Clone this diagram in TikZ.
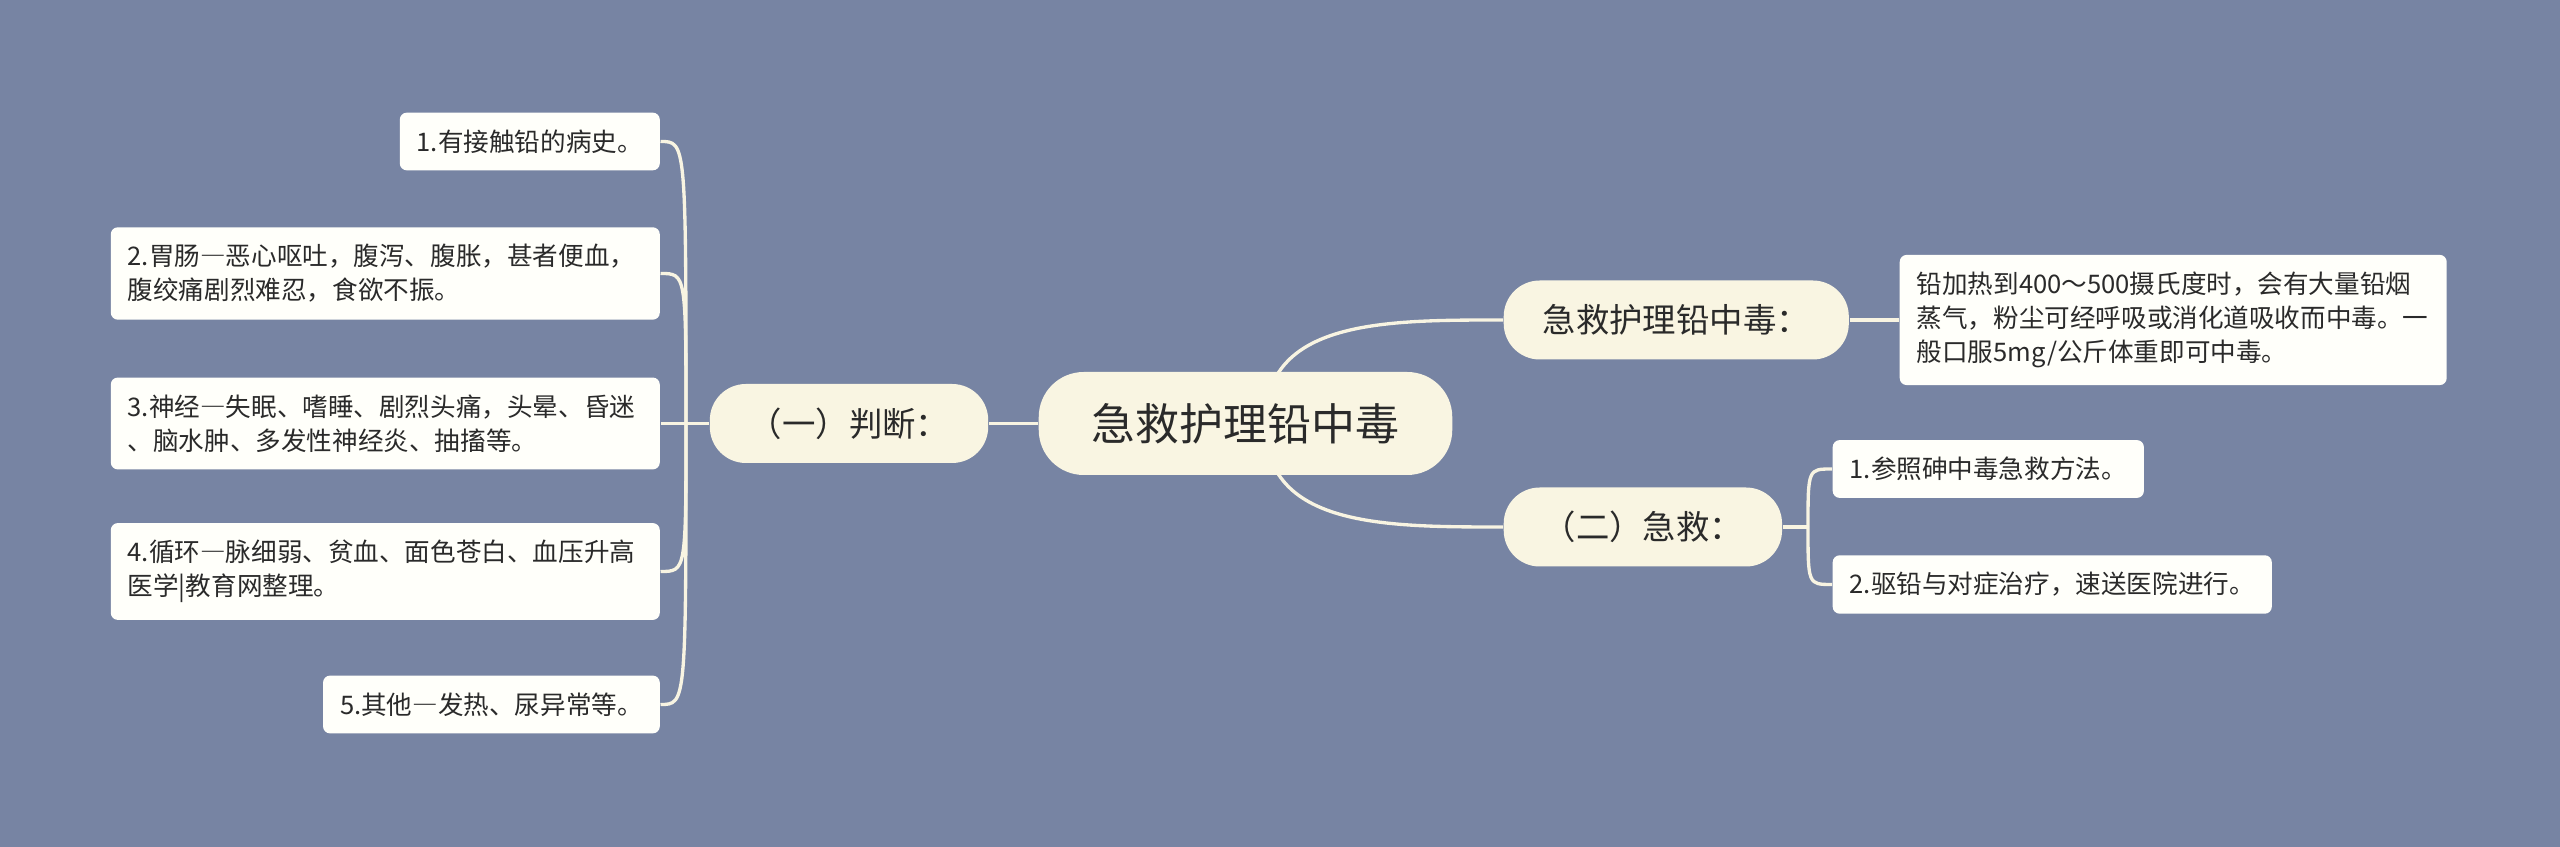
\documentclass[tikz,border=0pt]{standalone}
\usepackage{fontspec}
\setmainfont{Noto Sans CJK SC}
\usepackage{tikz}
\usetikzlibrary{positioning,backgrounds}
\definecolor{bgblue}{HTML}{7784A3}
\definecolor{cream}{HTML}{F9F5E2}
\definecolor{leafwhite}{HTML}{FFFFFA}
\definecolor{linecol}{HTML}{F8F4E2}
\definecolor{txt}{HTML}{2A2A2A}
\newcommand{\ldash}{{\addfontfeature{RawFeature=+fwid}—}}

\begin{document}
\begin{tikzpicture}
\tikzstyle{root}=[rectangle, rounded corners=0.45cm, fill=cream, minimum height=1.03cm, inner xsep=0.53cm, text=txt, font=\fontsize{12.5}{15}\selectfont]
\tikzstyle{branch}=[rectangle, rounded corners=0.36cm, fill=cream, minimum height=0.79cm, inner xsep=0.39cm, text=txt, font=\fontsize{9.5}{12}\selectfont]
\tikzstyle{leaf}=[rectangle, rounded corners=0.07cm, fill=leafwhite, minimum height=0.57cm, inner xsep=0.17cm, inner ysep=0.17cm, align=left, text=txt, font=\fontsize{7.28}{9.7}\selectfont]
\tikzstyle{wide}=[text width=5.15cm]
\tikzstyle{connect}=[line width=0.95pt, draw=linecol]

	\useasboundingbox (0,0) rectangle (25.6,-8.47);

	\node[root] (root) at (12.455,-4.235) {急救护理铅中毒};

	% left side
	\node[branch] (pd) at (8.49,-4.235) {（一）判断：};
	\node[leaf, anchor=east] (pd1) at (6.605,-1.415) {1.有接触铅的病史。};
	\node[leaf, wide, anchor=east] (pd2) at (6.605,-2.735) {2.胃肠\ldash 恶心呕吐，腹泻、腹胀，甚者便血，\\腹绞痛剧烈难忍，食欲不振。};
	\node[leaf, wide, anchor=east] (pd3) at (6.605,-4.235) {3.神经\ldash 失眠、嗜睡、剧烈头痛，头晕、昏迷\\、脑水肿、多发性神经炎、抽搐等。};
	\node[leaf, wide, anchor=east] (pd4) at (6.605,-5.715) {4.循环\ldash 脉细弱、贫血、面色苍白、血压升高\\医学|教育网整理。};
	\node[leaf, anchor=east] (pd5) at (6.605,-7.045) {5.其他\ldash 发热、尿异常等。};

	% right side
	\node[branch, anchor=west] (hl) at (15.03,-3.2) {急救护理铅中毒：};
	\node[leaf, text width=5.13cm, anchor=west] (hl1) at (18.99,-3.2) {铅加热到400～500摄氏度时，会有大量铅烟\\蒸气，粉尘可经呼吸或消化道吸收而中毒。一\\般口服5mg/公斤体重即可中毒。};

	\node[branch, anchor=west] (jj) at (15.03,-5.27) {（二）急救：};
	\node[leaf, anchor=west] (jj1) at (18.32,-4.69) {1.参照砷中毒急救方法。};
	\node[leaf, anchor=west] (jj2) at (18.32,-5.845) {2.驱铅与对症治疗，速送医院进行。};

	\coordinate (jl) at (6.86,-4.235);
	\coordinate (jr) at (18.08,-5.27);
	\coordinate (rs) at (12.65,-4.235);

	\begin{scope}[on background layer]
	\fill[bgblue] (0,0) rectangle (25.6,-8.47);
	\path[connect]
		(root) edge [] (pd)
		(pd.west) edge [] (jl)
		(hl) edge [] (hl1)
		(jj.east) edge [] (jr);
	\draw[connect] (rs) .. controls (rs |- hl.west) and ([xshift=-1.2cm]hl.west) .. (hl.west);
	\draw[connect] (rs) .. controls (rs |- jj.west) and ([xshift=-1.2cm]jj.west) .. (jj.west);
	\foreach \n in {pd1,pd2,pd3,pd4,pd5}
		\draw[connect] (jl) .. controls (jl |- \n.east) .. (\n.east);
	\foreach \n in {jj1,jj2}
		\draw[connect] (jr) .. controls (jr |- \n.west) .. (\n.west);
	\end{scope}

\end{tikzpicture}
\end{document}
